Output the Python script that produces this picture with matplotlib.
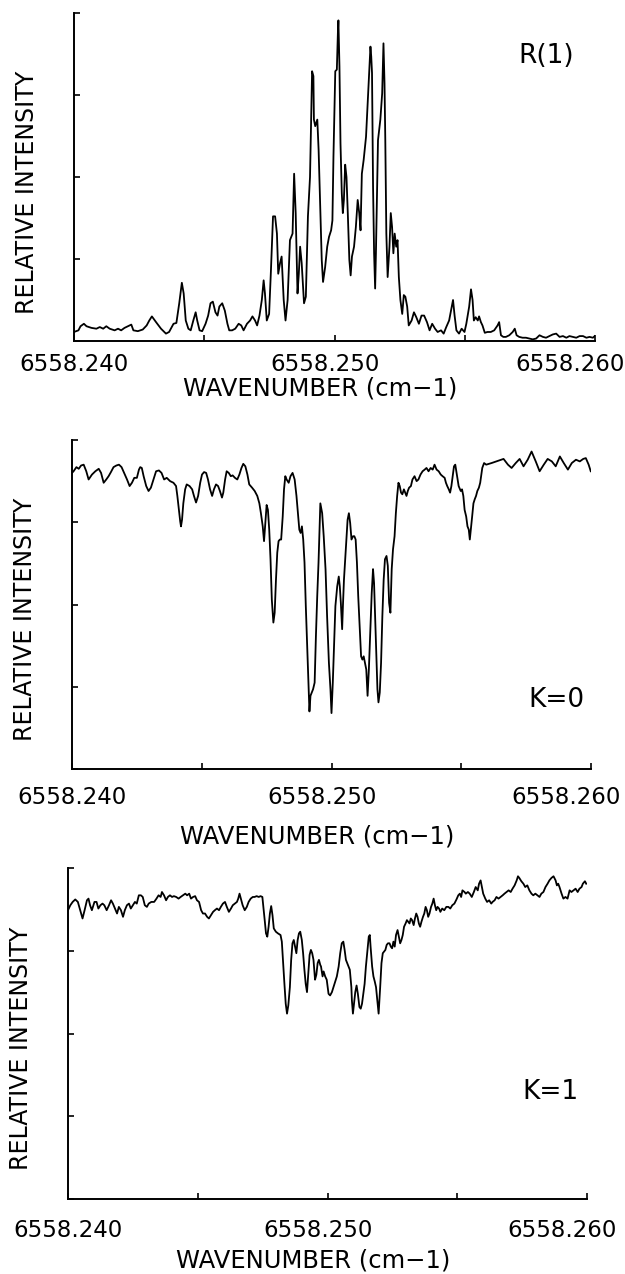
import matplotlib
matplotlib.use("Agg")
import matplotlib.pyplot as plt
import matplotlib.transforms as mtransforms
import numpy as np

# wavenumber offsets in units of 1e-3 cm-1 from 6558.240, intensity in axis units (0-4)
WN0 = 6558.240

r1_off = [
    0.00, 0.17, 0.25, 0.38, 0.48, 0.67, 0.86, 0.99, 1.12, 1.24,
    1.37, 1.56, 1.69, 1.81, 1.94, 2.07, 2.20, 2.28, 2.45, 2.64,
    2.79, 2.89, 2.99, 3.15, 3.34, 3.53, 3.65, 3.82, 3.93, 4.04,
    4.14, 4.21, 4.29, 4.39, 4.48, 4.58, 4.67, 4.73, 4.82, 4.92,
    5.05, 5.15, 5.24, 5.33, 5.43, 5.51, 5.58, 5.69, 5.79, 5.89,
    5.96, 6.07, 6.19, 6.32, 6.42, 6.51, 6.64, 6.76, 6.85, 6.95,
    7.03, 7.12, 7.21, 7.28, 7.33, 7.40, 7.49, 7.56, 7.64, 7.72,
    7.79, 7.84, 7.91, 7.97, 8.05, 8.12, 8.20, 8.29, 8.39, 8.45,
    8.51, 8.58, 8.63, 8.68, 8.74, 8.83, 8.90, 8.98, 9.06, 9.14,
    9.19, 9.21, 9.26, 9.34, 9.39,
    9.45, 9.51, 9.56, 9.64, 9.72, 9.79, 9.87, 9.92, 9.96, 10.03,
    10.09, 10.13, 10.15, 10.19, 10.23, 10.28, 10.32, 10.36, 10.41, 10.46,
    10.51, 10.57, 10.62, 10.67, 10.75, 10.82, 10.89, 10.95, 11.00, 11.05,
    11.12, 11.21, 11.31, 11.38, 11.41, 11.44, 11.48, 11.52, 11.56, 11.59,
    11.67, 11.76, 11.83, 11.88, 11.92, 11.95, 11.99, 12.04, 12.11, 12.16,
    12.21, 12.26, 12.31, 12.37, 12.42, 12.47, 12.53, 12.60, 12.66, 12.72,
    12.79, 12.85, 12.96, 13.05, 13.14, 13.24, 13.34, 13.44, 13.55, 13.65,
    13.75, 13.86, 13.96, 14.09, 14.19, 14.29, 14.40, 14.47, 14.55, 14.61,
    14.68, 14.78, 14.88, 14.99, 15.06, 15.17, 15.24, 15.30, 15.35, 15.42,
    15.50, 15.55, 15.62, 15.68, 15.77, 15.87, 16.00, 16.13, 16.26, 16.32,
    16.39, 16.48, 16.58, 16.71, 16.84, 16.92, 16.99, 17.09, 17.22, 17.35,
    17.48, 17.61, 17.74, 17.87, 18.00, 18.12, 18.25, 18.38, 18.51, 18.64,
    18.77, 18.90, 19.02, 19.15, 19.28, 19.41, 19.54, 19.67, 19.79, 19.92,
    19.99,
]
r1_int = [
    0.11, 0.13, 0.18, 0.21, 0.18, 0.16, 0.15, 0.17, 0.15, 0.18,
    0.15, 0.13, 0.15, 0.13, 0.16, 0.18, 0.20, 0.13, 0.12, 0.14,
    0.19, 0.25, 0.30, 0.23, 0.15, 0.09, 0.11, 0.21, 0.22, 0.46,
    0.71, 0.58, 0.25, 0.15, 0.13, 0.25, 0.35, 0.25, 0.13, 0.12,
    0.21, 0.31, 0.46, 0.48, 0.35, 0.31, 0.42, 0.46, 0.37, 0.21,
    0.13, 0.13, 0.15, 0.21, 0.19, 0.13, 0.21, 0.25, 0.30, 0.25,
    0.19, 0.31, 0.50, 0.74, 0.58, 0.25, 0.33, 0.86, 1.52, 1.52,
    1.31, 0.82, 0.95, 1.03, 0.50, 0.25, 0.50, 1.23, 1.31, 2.04,
    1.56, 0.58, 0.82, 1.15, 0.95, 0.46, 0.54, 1.52, 2.00, 3.29,
    3.23, 2.70, 2.62, 2.70, 2.33,
    1.64, 0.99, 0.72, 0.90, 1.15, 1.27, 1.35, 1.47, 2.25, 3.29,
    3.31, 3.76, 3.91, 3.35, 2.41, 1.80, 1.56, 1.72, 2.15, 2.00,
    1.56, 0.99, 0.80, 1.03, 1.15, 1.39, 1.72, 1.56, 1.35, 2.04,
    2.21, 2.49, 3.14, 3.59, 3.47, 3.27, 1.88, 1.07, 0.64, 1.07,
    2.45, 2.70, 3.02, 3.63, 3.14, 2.45, 1.31, 0.78, 1.15, 1.56,
    1.39, 1.07, 1.31, 1.15, 1.23, 0.78, 0.50, 0.33, 0.56, 0.54,
    0.42, 0.19, 0.25, 0.35, 0.29, 0.21, 0.31, 0.31, 0.23, 0.13,
    0.21, 0.15, 0.11, 0.13, 0.09, 0.17, 0.25, 0.37, 0.50, 0.31,
    0.13, 0.09, 0.15, 0.11, 0.21, 0.42, 0.63, 0.50, 0.25, 0.29,
    0.25, 0.30, 0.23, 0.19, 0.10, 0.11, 0.11, 0.13, 0.19, 0.23,
    0.07, 0.05, 0.05, 0.07, 0.11, 0.15, 0.07, 0.05, 0.04, 0.04,
    0.03, 0.02, 0.03, 0.07, 0.05, 0.04, 0.06, 0.08, 0.09, 0.05,
    0.06, 0.04, 0.06, 0.05, 0.04, 0.06, 0.06, 0.04, 0.05, 0.04,
    0.06,
]

k0_off = [
    0.00, 0.06, 0.17, 0.26, 0.35, 0.45, 0.55, 0.64, 0.77, 0.90,
    1.03, 1.12, 1.22, 1.32, 1.41, 1.50, 1.60, 1.71, 1.81, 1.91,
    2.01, 2.12, 2.22, 2.31, 2.40, 2.50, 2.58, 2.63, 2.69, 2.76,
    2.86, 2.95, 3.04, 3.14, 3.24, 3.35, 3.45, 3.55, 3.65, 3.78,
    3.91, 4.01, 4.06, 4.12, 4.17, 4.20, 4.24, 4.29, 4.36, 4.42,
    4.53, 4.63, 4.70, 4.78, 4.86, 4.94, 5.01, 5.09, 5.17, 5.24,
    5.32, 5.40, 5.47, 5.55, 5.63, 5.70, 5.78, 5.83, 5.90, 5.96,
    6.04, 6.12, 6.19, 6.28, 6.37, 6.45, 6.53, 6.60, 6.68, 6.76,
    6.83, 6.94, 7.04, 7.14, 7.22, 7.28, 7.35, 7.40, 7.45, 7.50,
    7.55, 7.60, 7.65, 7.70, 7.76, 7.81, 7.86, 7.91, 7.96, 8.01,
    8.06, 8.12, 8.17, 8.22, 8.27, 8.35, 8.42, 8.50, 8.58, 8.65,
    8.70, 8.76, 8.81, 8.86, 8.91, 8.96, 9.01, 9.06, 9.12, 9.15,
    9.19, 9.24, 9.29, 9.35, 9.40, 9.45, 9.50,
    9.57, 9.64, 9.70, 9.77, 9.83, 9.90, 9.96, 10.00, 10.05, 10.10,
    10.15, 10.22, 10.28, 10.32, 10.36, 10.41, 10.44, 10.48, 10.52, 10.57,
    10.62, 10.67, 10.72, 10.77, 10.83, 10.88, 10.93, 10.98, 11.03, 11.08,
    11.14, 11.19, 11.24, 11.29, 11.34, 11.39, 11.44, 11.50, 11.55, 11.60,
    11.64, 11.68, 11.73, 11.77, 11.81, 11.86, 11.91, 11.96, 12.01, 12.06,
    12.12, 12.17, 12.22, 12.27, 12.32, 12.37, 12.43, 12.48, 12.53, 12.58,
    12.63, 12.68, 12.73, 12.79, 12.84, 12.89, 12.94, 12.99, 13.06, 13.12,
    13.20, 13.28, 13.35, 13.43, 13.51, 13.59, 13.66, 13.74, 13.82, 13.90,
    13.97, 14.05, 14.13, 14.21, 14.28, 14.36, 14.41, 14.46, 14.52, 14.57,
    14.62, 14.67, 14.72, 14.77, 14.82, 14.90, 14.98, 15.03, 15.08, 15.13,
    15.19, 15.24, 15.29, 15.33, 15.37, 15.42, 15.47, 15.52, 15.57, 15.62,
    15.68, 15.73, 15.81, 15.88, 15.96, 16.17, 16.35, 16.63, 16.80, 16.94,
    17.10, 17.25, 17.40, 17.56, 17.71, 17.87, 18.02, 18.18, 18.33, 18.49,
    18.64, 18.80, 18.95, 19.11, 19.26, 19.42, 19.57, 19.70, 19.80, 19.91,
    19.99,
]
k0_int = [
    3.60, 3.62, 3.67, 3.65, 3.69, 3.70, 3.62, 3.52, 3.58, 3.62,
    3.65, 3.60, 3.48, 3.52, 3.56, 3.61, 3.67, 3.69, 3.70, 3.67,
    3.60, 3.52, 3.44, 3.48, 3.54, 3.54, 3.64, 3.67, 3.66, 3.56,
    3.44, 3.38, 3.42, 3.52, 3.62, 3.63, 3.60, 3.52, 3.54, 3.50,
    3.48, 3.44, 3.32, 3.15, 3.01, 2.95, 3.03, 3.23, 3.40, 3.46,
    3.44, 3.40, 3.32, 3.24, 3.32, 3.48, 3.58, 3.61, 3.60, 3.52,
    3.40, 3.32, 3.40, 3.46, 3.44, 3.38, 3.30, 3.36, 3.52, 3.62,
    3.60, 3.56, 3.57, 3.54, 3.52, 3.58, 3.66, 3.71, 3.68, 3.58,
    3.46, 3.42, 3.38, 3.32, 3.23, 3.11, 2.95, 2.77, 2.99, 3.21,
    3.15, 2.91, 2.55, 2.06, 1.78, 1.90, 2.30, 2.63, 2.77, 2.79,
    2.79, 3.07, 3.40, 3.56, 3.52, 3.48, 3.56, 3.60, 3.52, 3.32,
    3.13, 2.91, 2.87, 2.95, 2.79, 2.51, 1.98, 1.53, 0.97, 0.70,
    0.89, 0.93, 0.97, 1.05, 1.62, 2.10, 2.51,
    3.23, 3.11, 2.83, 2.43, 1.86, 1.29, 0.97, 0.68, 1.05, 1.53,
    1.98, 2.22, 2.34, 2.22, 2.02, 1.70, 1.98, 2.30, 2.51, 2.79,
    3.03, 3.11, 2.99, 2.79, 2.83, 2.83, 2.79, 2.51, 2.10, 1.78,
    1.37, 1.33, 1.37, 1.29, 1.21, 0.89, 1.21, 1.70, 2.14, 2.43,
    2.26, 1.86, 1.33, 0.97, 0.81, 0.93, 1.29, 1.86, 2.30, 2.55,
    2.59, 2.47, 2.02, 1.90, 2.43, 2.67, 2.83, 3.11, 3.32, 3.48,
    3.44, 3.36, 3.34, 3.40, 3.36, 3.32, 3.38, 3.42, 3.44, 3.52,
    3.56, 3.50, 3.52, 3.58, 3.62, 3.64, 3.66, 3.62, 3.66, 3.64,
    3.70, 3.64, 3.62, 3.58, 3.56, 3.54, 3.48, 3.44, 3.40, 3.36,
    3.44, 3.56, 3.68, 3.70, 3.60, 3.44, 3.38, 3.40, 3.32, 3.15,
    3.07, 2.95, 2.91, 2.79, 2.91, 3.07, 3.23, 3.28, 3.32, 3.38,
    3.42, 3.48, 3.66, 3.72, 3.70, 3.72, 3.74, 3.77, 3.70, 3.66,
    3.72, 3.77, 3.68, 3.76, 3.86, 3.74, 3.62, 3.70, 3.77, 3.74,
    3.68, 3.80, 3.72, 3.64, 3.72, 3.76, 3.74, 3.77, 3.78, 3.70,
    3.62,
]

k1_off = [
    0.00, 0.09, 0.18, 0.28, 0.38, 0.47, 0.56, 0.64, 0.73, 0.79,
    0.85, 0.92, 1.02, 1.10, 1.17, 1.25, 1.33, 1.40, 1.49, 1.58,
    1.66, 1.73, 1.81, 1.89, 1.96, 2.04, 2.12, 2.19, 2.27, 2.35,
    2.42, 2.50, 2.58, 2.65, 2.73, 2.81, 2.88, 2.96, 3.04, 3.11,
    3.21, 3.32, 3.41, 3.49, 3.57, 3.62, 3.70, 3.78, 3.85, 3.93,
    4.01, 4.08, 4.17, 4.26, 4.34, 4.43, 4.52, 4.59, 4.67, 4.74,
    4.82, 4.90, 4.97, 5.05, 5.13, 5.20, 5.28, 5.36, 5.43, 5.51,
    5.59, 5.66, 5.74, 5.82, 5.89, 5.97, 6.05, 6.12, 6.20, 6.28,
    6.35, 6.43, 6.51, 6.56, 6.61, 6.66, 6.73, 6.81, 6.89, 6.96,
    7.04, 7.12, 7.19, 7.27, 7.35, 7.42, 7.49, 7.53, 7.58, 7.63,
    7.68, 7.73, 7.78, 7.83, 7.88, 7.93, 8.01, 8.09, 8.19, 8.24,
    8.29, 8.34, 8.39, 8.44, 8.49, 8.55, 8.60, 8.65, 8.70, 8.75,
    8.80, 8.85, 8.90, 8.95, 9.01, 9.06, 9.11, 9.16, 9.21, 9.26,
    9.31, 9.36, 9.41, 9.46, 9.52, 9.57, 9.62, 9.67,
    9.72, 9.75, 9.81, 9.85, 9.91, 9.97, 10.04, 10.10, 10.17, 10.23,
    10.30, 10.36, 10.43, 10.49, 10.55, 10.61, 10.66, 10.71, 10.76, 10.81,
    10.86, 10.92, 10.94, 10.98, 11.02, 11.07, 11.12, 11.17, 11.23, 11.28,
    11.33, 11.38, 11.43, 11.48, 11.54, 11.59, 11.63, 11.66, 11.72, 11.77,
    11.82, 11.87, 11.92, 11.97, 12.03, 12.08, 12.13, 12.18, 12.23, 12.28,
    12.33, 12.39, 12.44, 12.49, 12.54, 12.59, 12.64, 12.70, 12.75, 12.80,
    12.85, 12.90, 12.95, 13.01, 13.06, 13.11, 13.16, 13.21, 13.26, 13.32,
    13.37, 13.42, 13.47, 13.52, 13.57, 13.62, 13.68, 13.73, 13.78, 13.83,
    13.88, 13.93, 13.99, 14.04, 14.09, 14.14, 14.19, 14.24, 14.30, 14.35,
    14.42, 14.50, 14.58, 14.66, 14.73, 14.81, 14.89, 14.97, 15.04, 15.10,
    15.15, 15.20, 15.28, 15.33, 15.41, 15.48, 15.56, 15.64, 15.71, 15.79,
    15.84, 15.90, 15.95, 16.00, 16.08, 16.15, 16.23, 16.31, 16.36, 16.44,
    16.51, 16.59, 16.67, 16.75, 16.82, 16.90, 16.98, 17.06, 17.13, 17.21,
    17.29, 17.34, 17.39, 17.47, 17.55, 17.62, 17.70, 17.78, 17.86, 17.93,
    18.01, 18.09, 18.17, 18.24, 18.32, 18.40, 18.48, 18.55, 18.63, 18.71,
    18.79, 18.84, 18.89, 18.94, 19.02, 19.09, 19.17, 19.25, 19.33, 19.40,
    19.48, 19.56, 19.64, 19.71, 19.79, 19.84, 19.92, 19.97,
]
k1_int = [
    3.49, 3.55, 3.59, 3.62, 3.59, 3.49, 3.39, 3.49, 3.61, 3.63,
    3.55, 3.49, 3.59, 3.59, 3.51, 3.55, 3.57, 3.55, 3.49, 3.55,
    3.61, 3.57, 3.51, 3.45, 3.53, 3.49, 3.41, 3.49, 3.55, 3.57,
    3.51, 3.55, 3.59, 3.57, 3.67, 3.67, 3.65, 3.55, 3.53, 3.57,
    3.59, 3.59, 3.63, 3.67, 3.65, 3.71, 3.67, 3.61, 3.65, 3.67,
    3.65, 3.66, 3.65, 3.63, 3.65, 3.67, 3.69, 3.67, 3.69, 3.63,
    3.65, 3.66, 3.61, 3.59, 3.49, 3.45, 3.45, 3.41, 3.39, 3.43,
    3.47, 3.49, 3.51, 3.49, 3.53, 3.57, 3.59, 3.53, 3.47, 3.51,
    3.55, 3.57, 3.59, 3.63, 3.69, 3.63, 3.55, 3.49, 3.53, 3.59,
    3.63, 3.65, 3.65, 3.66, 3.65, 3.66, 3.65, 3.53, 3.37, 3.21,
    3.17, 3.29, 3.45, 3.54, 3.43, 3.27, 3.23, 3.21, 3.19, 3.11,
    2.85, 2.60, 2.36, 2.24, 2.34, 2.56, 2.89, 3.09, 3.13, 3.05,
    2.97, 3.13, 3.21, 3.23, 3.13, 2.97, 2.77, 2.60, 2.50, 2.73,
    2.95, 3.01, 2.97, 2.89, 2.65, 2.71, 2.85, 2.89,
    2.83, 2.81, 2.69, 2.75, 2.69, 2.65, 2.48, 2.46, 2.50, 2.56,
    2.63, 2.69, 2.81, 2.97, 3.09, 3.11, 3.01, 2.89, 2.85, 2.81,
    2.77, 2.56, 2.40, 2.24, 2.36, 2.50, 2.58, 2.48, 2.32, 2.30,
    2.36, 2.48, 2.60, 2.81, 3.01, 3.17, 3.19, 3.05, 2.81, 2.69,
    2.63, 2.56, 2.40, 2.24, 2.56, 2.85, 2.97, 2.99, 3.01, 3.07,
    3.09, 3.09, 3.05, 3.03, 3.11, 3.05, 3.19, 3.25, 3.17, 3.09,
    3.13, 3.19, 3.29, 3.33, 3.37, 3.35, 3.33, 3.39, 3.37, 3.31,
    3.39, 3.45, 3.41, 3.33, 3.29, 3.35, 3.41, 3.45, 3.53, 3.49,
    3.41, 3.45, 3.53, 3.57, 3.63, 3.55, 3.49, 3.53, 3.51, 3.47,
    3.51, 3.49, 3.53, 3.53, 3.51, 3.55, 3.57, 3.62, 3.67, 3.69,
    3.65, 3.73, 3.71, 3.69, 3.71, 3.69, 3.65, 3.71, 3.77, 3.73,
    3.81, 3.85, 3.77, 3.69, 3.63, 3.59, 3.61, 3.57, 3.59, 3.61,
    3.65, 3.63, 3.65, 3.67, 3.69, 3.71, 3.73, 3.71, 3.75, 3.79,
    3.85, 3.90, 3.88, 3.84, 3.81, 3.77, 3.79, 3.73, 3.69, 3.67,
    3.69, 3.67, 3.65, 3.69, 3.71, 3.77, 3.81, 3.85, 3.88, 3.90,
    3.85, 3.79, 3.81, 3.77, 3.69, 3.63, 3.65, 3.63, 3.73, 3.71,
    3.73, 3.75, 3.71, 3.75, 3.77, 3.81, 3.84, 3.81,
]

panel_labels = ["R(1)", "K=0", "K=1"]
label_pos = [(0.906, 0.869), (0.933, 0.210), (0.929, 0.324)]

# axes boxes in pixels: left, right, top, bottom
boxes = [(74, 595, 13, 341), (72, 591, 440, 769), (68, 587, 868, 1199)]
tick_pads = [8.5, 12.0, 14.5]
xlabel_y = [-0.146, -0.204, -0.185]

plt.rcParams["font.family"] = ["DejaVu Sans"]

W, H = 625, 1274
fig = plt.figure(figsize=(W / 100, H / 100), dpi=100)

series = [(r1_off, r1_int), (k0_off, k0_int), (k1_off, k1_int)]

for i, ((off, inten), box) in enumerate(zip(series, boxes)):
    assert len(off) == len(inten)
    l, r, t, b = box
    ax = fig.add_axes([l / W, (H - b) / H, (r - l) / W, (b - t) / H])

    wn = WN0 + np.array(off) * 1e-3
    ax.plot(wn, inten, color="black", linewidth=1.3)

    ax.set_xlim(WN0, WN0 + 0.020)
    ax.set_ylim(0, 4)

    ax.spines["top"].set_visible(False)
    ax.spines["right"].set_visible(False)
    for s in ("left", "bottom"):
        ax.spines[s].set_linewidth(1.4)

    ax.set_xticks([WN0, WN0 + 0.010, WN0 + 0.020])
    ax.set_xticklabels(["6558.240", "6558.250", "6558.260"])
    ax.set_xticks([WN0 + 0.005, WN0 + 0.015], minor=True)
    ax.set_yticks([0, 1, 2, 3, 4])
    ax.set_yticklabels([])
    ax.tick_params(axis="both", which="both", direction="in",
                   length=4, width=1.2)
    ax.tick_params(axis="x", which="major", labelsize=16.5, pad=tick_pads[i])

    # tick labels in the scan sit a little left of their ticks
    for lab, dx in zip(ax.get_xticklabels(), [0, -7, -18]):
        lab.set_transform(lab.get_transform() +
                          mtransforms.ScaledTranslation(dx / 72, 0, fig.dpi_scale_trans))

    ax.set_ylabel("RELATIVE INTENSITY", fontsize=17, va="center")
    ax.yaxis.set_label_coords(-0.09, 0.454)
    ax.set_xlabel("WAVENUMBER (cm\u22121)", fontsize=17.5, va="center")
    ax.xaxis.set_label_coords(0.473, xlabel_y[i])

    ax.text(label_pos[i][0], label_pos[i][1], panel_labels[i],
            transform=ax.transAxes, ha="center", va="center", fontsize=19)

fig.savefig("out.png", dpi=100)
